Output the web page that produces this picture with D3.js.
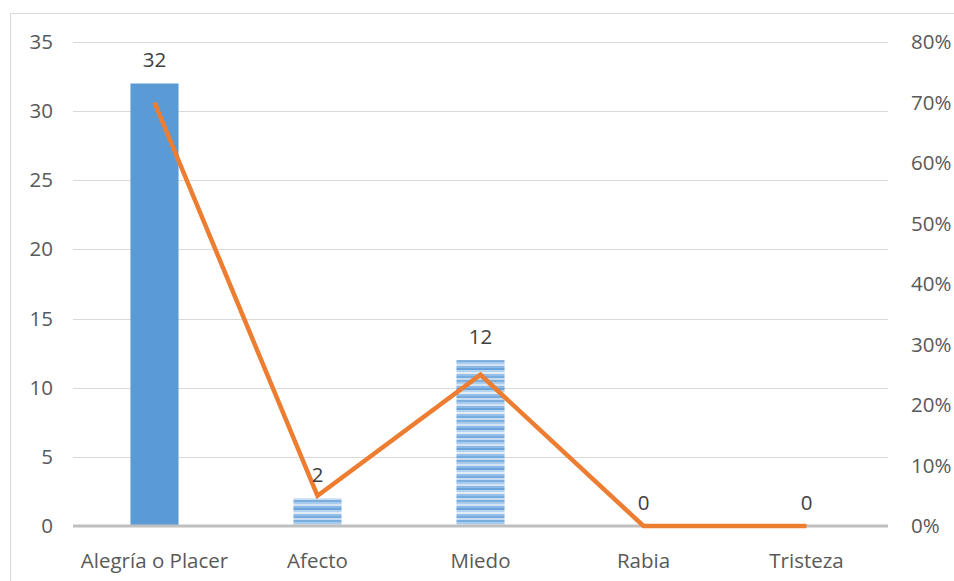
<!DOCTYPE html>
<html>
<head>
<meta charset="utf-8">
<script src="https://cdn.jsdelivr.net/npm/d3@7"></script>
<style>
  html, body { margin: 0; padding: 0; background: #fff; }
  svg { display: block; font-family: "Open Sans", Lato, "Liberation Sans", sans-serif; }
</style>
</head>
<body>
<svg id="chart" width="954" height="581"></svg>
<script>
// Emotion categories with their counts and percentage share
const categories = ["Alegría o Placer", "Afecto", "Miedo", "Rabia", "Tristeza"];
const counts = [32, 2, 12, 0, 0];
const shares = [0.70, 0.05, 0.25, 0, 0];
const leftTicks = [0, 5, 10, 15, 20, 25, 30, 35];
const rightTicks = [0, 0.1, 0.2, 0.3, 0.4, 0.5, 0.6, 0.7, 0.8];
// Bars drawn with the striped gradient fill instead of the solid one
const stripedBars = ["Afecto", "Miedo"];

const svg = d3.select("#chart");
const W = 954, H = 581;
const plot = { left: 73, right: 888, top: 42, bottom: 526 };
const FONT = "'Open Sans', Lato, 'Liberation Sans', sans-serif";
const FS = 20.5;

// Outer chart frame
svg.append("rect")
  .attr("x", 10.5).attr("y", 13.5)
  .attr("width", W).attr("height", H)
  .attr("fill", "none").attr("stroke", "#d9d9d9").attr("stroke-width", 1);

const x = d3.scaleBand().domain(categories).range([plot.left, plot.right]).paddingInner(0.705).paddingOuter(0.3525);
const y = d3.scaleLinear().domain([0, 35]).range([plot.bottom, plot.top]);
const y2 = d3.scaleLinear().domain([0, 0.8]).range([plot.bottom, plot.top]);

// Horizontal stripe pattern for the lighter bars
const defs = svg.append("defs");
const stripeColors = ["#7aaee0", "#a9cbec", "#d2e4f5", "#8bb8e4", "#6aa3da", "#b6d3ef", "#e0ecf8", "#94bee6", "#78acdf", "#c4dbf2"];
const pat = defs.append("pattern")
  .attr("id", "stripes").attr("patternUnits", "userSpaceOnUse")
  .attr("width", 10).attr("height", 20);
stripeColors.forEach((c, i) => {
  pat.append("rect").attr("x", 0).attr("y", i * 2).attr("width", 10).attr("height", 2).attr("fill", c);
});

// Gridlines
svg.append("g")
  .selectAll("line")
  .data(leftTicks.filter(d => d > 0))
  .join("line")
  .attr("x1", plot.left).attr("x2", plot.right)
  .attr("y1", d => Math.round(y(d)) + 0.5).attr("y2", d => Math.round(y(d)) + 0.5)
  .attr("stroke", "#d9d9d9").attr("stroke-width", 1);

function styleAxis(g) {
  g.attr("font-family", FONT).attr("font-size", FS);
  g.select(".domain").remove();
  g.selectAll("text").attr("fill", "#595959");
}

// Left axis
svg.append("g")
  .attr("transform", `translate(${plot.left - 20},0)`)
  .call(d3.axisLeft(y).tickValues(leftTicks).tickSize(0).tickPadding(0))
  .call(styleAxis);

// Right axis
svg.append("g")
  .attr("transform", `translate(${plot.right + 23},0)`)
  .call(d3.axisRight(y2).tickValues(rightTicks).tickFormat(d3.format(".0%")).tickSize(0).tickPadding(0))
  .call(styleAxis);

// Bars
svg.append("g")
  .selectAll("rect")
  .data(categories.map((c, i) => ({ c, v: counts[i] })))
  .join("rect")
  .attr("x", d => x(d.c))
  .attr("width", x.bandwidth())
  .attr("y", d => y(d.v))
  .attr("height", d => y(0) - y(d.v))
  .attr("fill", d => stripedBars.includes(d.c) ? "url(#stripes)" : "#5b9bd5");

// Category axis baseline
svg.append("line")
  .attr("x1", plot.left).attr("x2", plot.right)
  .attr("y1", plot.bottom).attr("y2", plot.bottom)
  .attr("stroke", "#bfbfbf").attr("stroke-width", 3);

// Category labels
svg.append("g")
  .attr("transform", `translate(0,${plot.bottom + 27})`)
  .call(d3.axisBottom(x).tickSize(0).tickPadding(0))
  .call(styleAxis);

// Percentage line
const line = d3.line()
  .x((d, i) => x(categories[i]) + x.bandwidth() / 2)
  .y(d => y2(d));
svg.append("path")
  .datum(shares)
  .attr("d", line)
  .attr("fill", "none")
  .attr("stroke", "#ed7d31")
  .attr("stroke-width", 4.5)
  .attr("stroke-linejoin", "miter");

// Count labels above bars
svg.append("g")
  .attr("font-family", FONT)
  .selectAll("text")
  .data(categories.map((c, i) => ({ c, v: counts[i] })))
  .join("text")
  .attr("x", d => x(d.c) + x.bandwidth() / 2)
  .attr("y", d => y(d.v) - 16)
  .attr("text-anchor", "middle")
  .attr("font-size", FS)
  .attr("fill", "#404040")
  .text(d => d.v);
</script>
</body>
</html>
